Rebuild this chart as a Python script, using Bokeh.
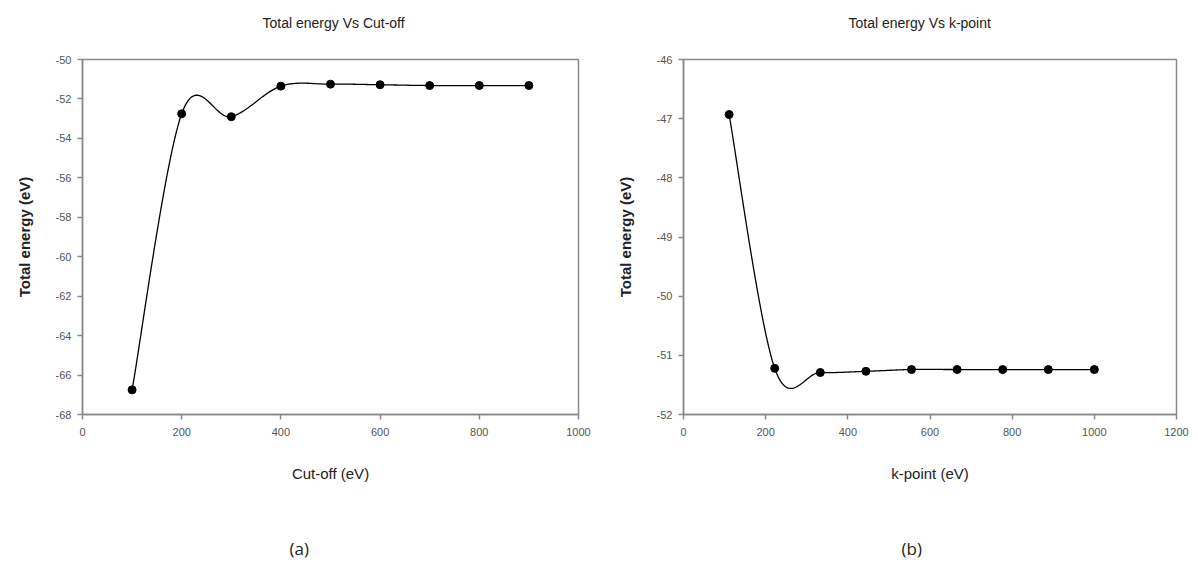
import numpy as np
from bokeh.plotting import figure
from bokeh.models import Range1d, FixedTicker, Title, PrintfTickFormatter
from bokeh.layouts import row
from bokeh.embed import file_html
from bokeh.resources import INLINE

# ---- data ----
cutoff = [100, 200, 300, 400, 500, 600, 700, 800, 900]
energy_cutoff = [-66.75, -52.75, -52.9, -51.35, -51.25, -51.28, -51.32, -51.32, -51.32]

kpoint = [111, 222, 333, 444, 555, 666, 777, 888, 1000]
energy_kpoint = [-46.93, -51.22, -51.29, -51.27, -51.24, -51.24, -51.24, -51.24, -51.24]

title_a = "Total energy Vs Cut-off"
title_b = "Total energy Vs k-point"
xlabel_a = "Cut-off (eV)"
xlabel_b = "k-point (eV)"
ylabel = "Total energy (eV)"
xticks_a = [0, 200, 400, 600, 800, 1000]
yticks_a = [-68, -66, -64, -62, -60, -58, -56, -54, -52, -50]
xticks_b = [0, 200, 400, 600, 800, 1000, 1200]
yticks_b = [-52, -51, -50, -49, -48, -47, -46]

FONT = "Liberation Sans"
GREY = "#8a8a8a"


def smooth(xs, ys, n=40):
    """Catmull-Rom smoothing of the drawn line (like a spreadsheet's smoothed line)."""
    P = np.column_stack([xs, ys]).astype(float)
    ext = np.vstack([P[0], P, P[-1]])
    out = []
    t = np.linspace(0, 1, n)
    h00 = 2 * t**3 - 3 * t**2 + 1
    h10 = t**3 - 2 * t**2 + t
    h01 = -2 * t**3 + 3 * t**2
    h11 = t**3 - t**2
    for i in range(1, len(ext) - 2):
        p0, p1, p2, p3 = ext[i - 1], ext[i], ext[i + 1], ext[i + 2]
        m1 = (p2 - p0) / 2.0
        m2 = (p3 - p1) / 2.0
        seg = (h00[:, None] * p1 + h10[:, None] * m1 +
               h01[:, None] * p2 + h11[:, None] * m2)
        out.append(seg if i == 1 else seg[1:])
    seg = np.vstack(out)
    return seg[:, 0], seg[:, 1]


def make_panel(xs, ys, xr, yr, xt, yt, xlabel, title, title_off, tag, tag_off,
               borders, spacer):
    bl, br, bt, bb = borders
    p = figure(width=599, height=565, output_backend="svg", toolbar_location=None,
               x_range=Range1d(*xr), y_range=Range1d(*yr),
               min_border_left=bl, min_border_right=br,
               min_border_top=bt, min_border_bottom=bb)
    p.grid.visible = False
    p.outline_line_color = GREY
    p.outline_line_width = 1.5
    p.background_fill_color = "white"
    p.border_fill_color = "white"

    for ax in (p.xaxis[0], p.yaxis[0]):
        ax.axis_line_color = GREY
        ax.axis_line_width = 1.5
        ax.major_tick_line_color = GREY
        ax.major_tick_line_width = 1.5
        ax.major_tick_out = 5
        ax.major_tick_in = 0
        ax.minor_tick_line_color = None
        ax.major_label_text_font = FONT
        ax.major_label_text_font_size = "11px"
        ax.major_label_text_color = "#555555"
        ax.axis_label_text_font = FONT
        ax.axis_label_text_color = "#222222"
        ax.formatter = PrintfTickFormatter(format="%d")

    p.xaxis.ticker = FixedTicker(ticks=xt)
    p.yaxis.ticker = FixedTicker(ticks=yt)
    p.xaxis.major_label_standoff = 8
    p.yaxis.major_label_standoff = 6

    p.xaxis.axis_label = xlabel
    p.xaxis.axis_label_text_font_size = "15px"
    p.xaxis.axis_label_text_font_style = "normal"
    p.xaxis.axis_label_standoff = 26

    p.yaxis.axis_label = ylabel
    p.yaxis.axis_label_text_font_size = "15px"
    p.yaxis.axis_label_text_font_style = "bold"
    p.yaxis.axis_label_standoff = 20

    sx, sy = smooth(xs, ys)
    p.line(sx, sy, line_color="black", line_width=1.3)
    p.scatter(xs, ys, size=8, marker="circle", fill_color="black", line_color="black")

    # spacer + title above the frame
    p.add_layout(Title(text=" ", text_font_size="11px"), "above")
    p.add_layout(Title(text=title, align="left", offset=title_off,
                       text_font=FONT, text_font_size="14px", text_font_style="normal",
                       text_color="#222222"), "above")
    # spacer + panel tag below the axis
    p.add_layout(Title(text=" ", text_font_size=spacer), "below")
    p.add_layout(Title(text=tag, align="left", offset=tag_off,
                       text_font="Open Sans", text_font_size="17px",
                       text_font_style="normal", text_color="#222222"), "below")
    return p


p1 = make_panel(cutoff, energy_cutoff, (0, 1000), (-68, -50), xticks_a, yticks_a,
                xlabel_a, title_a, 180, "(a)", 207, (82, 21, 58, 151), "30px")
p2 = make_panel(kpoint, energy_kpoint, (0, 1200), (-52, -46), xticks_b, yticks_b,
                xlabel_b, title_b, 165, "(b)", 218, (84, 22, 59, 151), "30px")

layout = row(p1, p2)
open("out.html", "w").write(file_html(layout, INLINE))
